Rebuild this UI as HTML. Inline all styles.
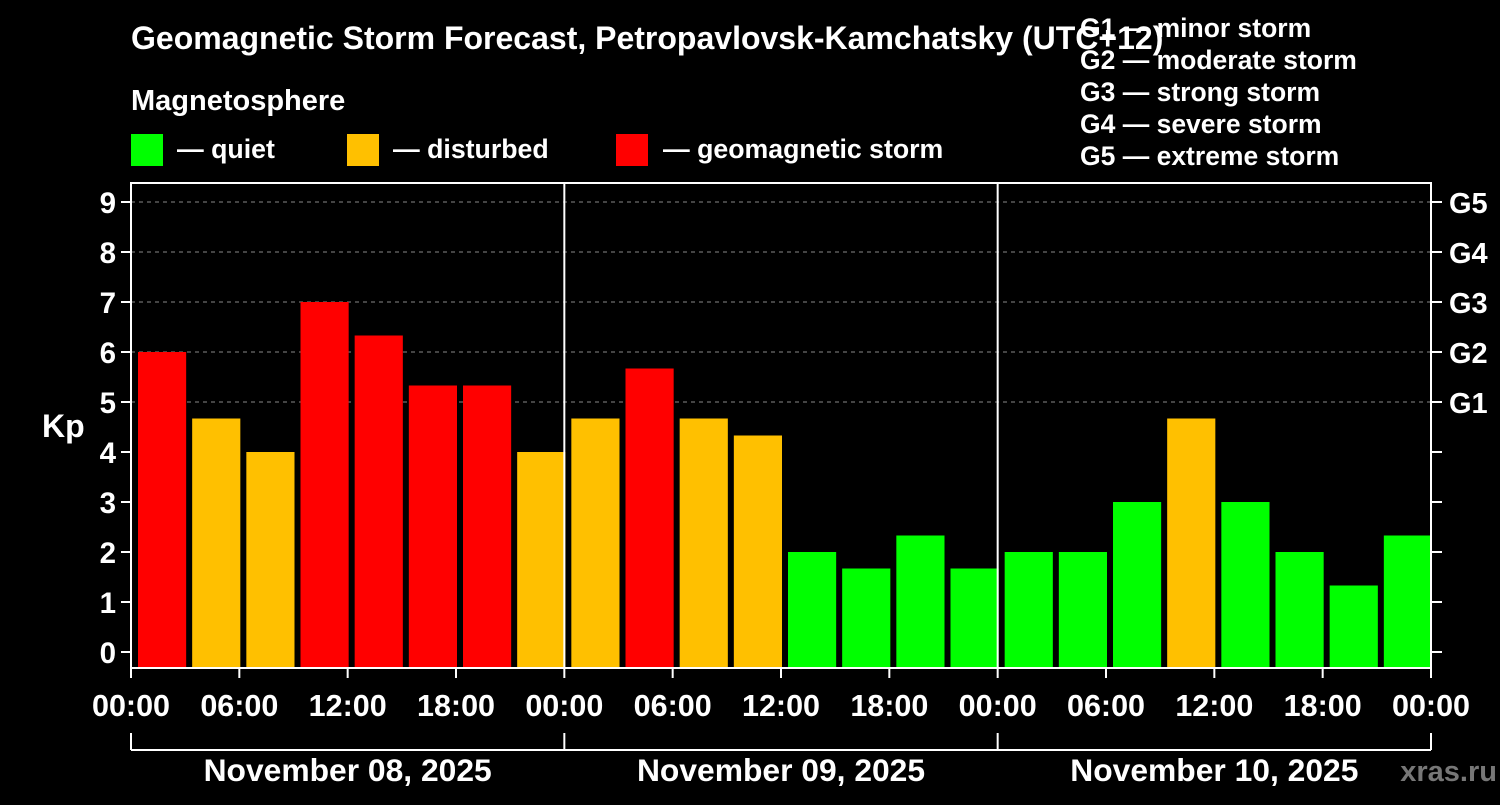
<!DOCTYPE html>
<html><head><meta charset="utf-8"><style>
body{margin:0;background:#000;width:1500px;height:800px;overflow:hidden}
svg text{font-family:"Liberation Sans",Arial,sans-serif;font-weight:bold;fill:#fff}
</style></head><body>
<svg id="c" width="1500" height="800" xmlns="http://www.w3.org/2000/svg">
<text x="131" y="49" font-size="32">Geomagnetic Storm Forecast, Petropavlovsk-Kamchatsky (UTC+12)</text>
<text x="131" y="110" font-size="29">Magnetosphere</text>
<rect x="131" y="134" width="32" height="32" fill="#00ff00"/>
<text x="177" y="158" font-size="26.7">— quiet</text>
<rect x="347" y="134" width="32" height="32" fill="#ffc000"/>
<text x="393" y="158" font-size="26.7">— disturbed</text>
<rect x="616" y="134" width="32" height="32" fill="#ff0000"/>
<text x="663" y="158" font-size="26.7">— geomagnetic storm</text>
<g font-size="26.5">
<text x="1080" y="37">G1 — minor storm</text>
<text x="1080" y="69">G2 — moderate storm</text>
<text x="1080" y="101">G3 — strong storm</text>
<text x="1080" y="133">G4 — severe storm</text>
<text x="1080" y="165">G5 — extreme storm</text>
</g>
<text x="42" y="437" font-size="32">Kp</text>
<text x="1497" y="781" font-size="29" text-anchor="end" style="fill:#777">xras.ru</text>
<g id="plot"></g>
</svg>
<script>
const days = ["November 08, 2025","November 09, 2025","November 10, 2025"];
const hourLabels = ["00:00","06:00","12:00","18:00"];
const kpValues = [6,4.67,4,7,6.33,5.33,5.33,4, 4.67,5.67,4.67,4.33,2,1.67,2.33,1.67, 2,2,3,4.67,3,2,1.33,2.33];
const yTicks = [0,1,2,3,4,5,6,7,8,9];
const gLevels = ["G1","G2","G3","G4","G5"];
const NS="http://www.w3.org/2000/svg", g=document.getElementById('plot');
const L=131,R=1431,T=183,B=668;
const y=v=>652-50*v;
const slot=(R-L)/kpValues.length;
const x=i=>L+i*slot;
function mk(t,a,txt){const e=document.createElementNS(NS,t);for(const k in a)e.setAttribute(k,a[k]);if(txt!=null)e.textContent=txt;g.appendChild(e);return e;}
function col(v){return v>=5?"#ff0000":v>=4?"#ffc000":"#00ff00";}
gLevels.forEach((lab,i)=>{
 const e=mk('line',{x1:L,x2:R,y1:y(5+i),y2:y(5+i),stroke:"#888","stroke-width":1,"stroke-dasharray":"4,4"});
 
 
 const t=mk('text',{x:1449,y:y(5+i)+11,"font-size":29},lab);
 
 
});
kpValues.forEach((v,i)=>{
 const r=mk('rect',{x:x(i)+7,y:y(v),width:slot-6,height:B-y(v),fill:col(v)});
 
 
});
yTicks.forEach(v=>{
 mk('line',{x1:L-10,x2:L,y1:y(v),y2:y(v),stroke:"#fff","stroke-width":2});
 mk('line',{x1:R,x2:R+11,y1:y(v),y2:y(v),stroke:"#fff","stroke-width":2});
 const t=mk('text',{x:116,y:y(v)+11,"font-size":29.5,"text-anchor":"end"},v);
 
 
});
const dw=(R-L)/days.length;
for(let d=0;d<=days.length;d++){
 const xd=L+d*dw;
 if(d>0&&d<days.length) mk('line',{x1:xd,x2:xd,y1:T,y2:B,stroke:"#fff","stroke-width":2});
 mk('line',{x1:xd,x2:xd,y1:733,y2:750,stroke:"#fff","stroke-width":2});
}
mk('line',{x1:L,x2:R,y1:750,y2:750,stroke:"#fff","stroke-width":2});
days.forEach((d,i)=>{
 const t=mk('text',{x:L+(i+0.5)*dw,y:781,"font-size":31.8,"text-anchor":"middle"},d);
 
 
 hourLabels.forEach((h,j)=>{
  const xx=L+i*dw+j*dw/4;
  mk('line',{x1:xx,x2:xx,y1:B,y2:B+10,stroke:"#fff","stroke-width":2});
  const tt=mk('text',{x:xx,y:716,"font-size":30.5,"text-anchor":"middle"},h);
  
  
 });
});
mk('line',{x1:R,x2:R,y1:B,y2:B+10,stroke:"#fff","stroke-width":2});
const tl=mk('text',{x:R,y:716,"font-size":30.5,"text-anchor":"middle"},"00:00");


const fr=mk('rect',{x:L,y:T,width:R-L,height:B-T,fill:"none",stroke:"#fff","stroke-width":2});


</script>
</body></html>
